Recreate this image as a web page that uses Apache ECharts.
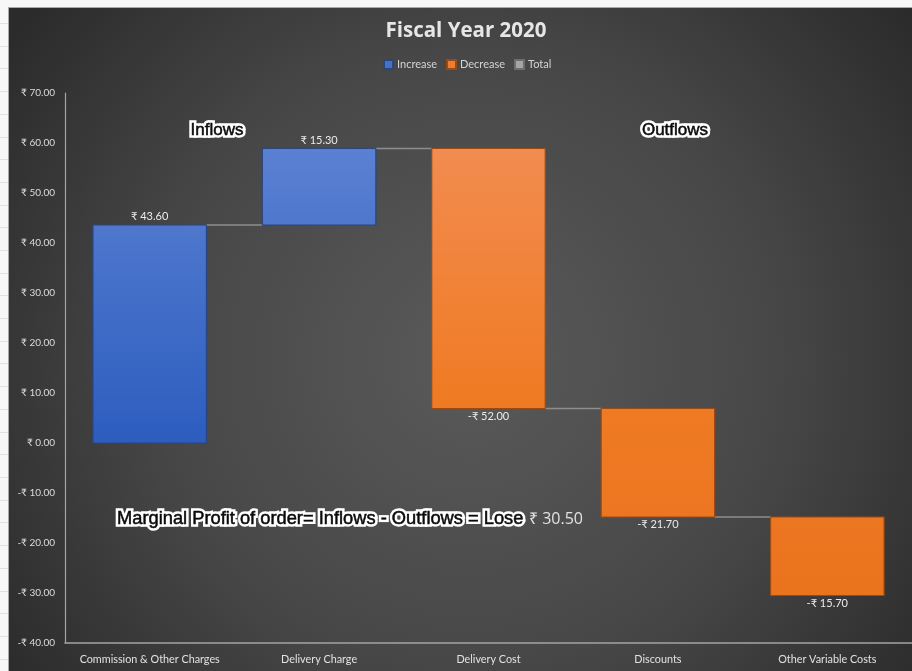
<!DOCTYPE html>
<html>
<head>
<meta charset="utf-8">
<title>Fiscal Year 2020</title>
<script src="https://cdn.jsdelivr.net/npm/echarts@6/dist/echarts.min.js"></script>
<style>
  html, body { margin: 0; padding: 0; background: #f7f7f7; }
  #chart { width: 912px; height: 671px; }
</style>
</head>
<body>
<div id="chart"></div>
<script>
// Waterfall of order-level cash flows
const categories = ['Commission & Other Charges', 'Delivery Charge', 'Delivery Cost', 'Discounts', 'Other Variable Costs'];
const changes = [43.6, 15.3, -52.0, -21.7, -15.7];
const legendNames = ['Increase', 'Decrease', 'Total'];
const axisMin = -40;
const axisMax = 70;
const axisStep = 10;

const rupee = v => (v < 0 ? '-₹ ' : '₹ ') + Math.abs(v).toFixed(2);

// running totals: each step starts where the previous one ended
const starts = [];
const ends = [];
let running = 0;
changes.forEach(c => { starts.push(running); running += c; ends.push(running); });
const finalTotal = running;

const incData = [];
const decData = [];
changes.forEach((c, i) => {
  const row = [i, starts[i], ends[i], c];
  (c >= 0 ? incData : decData).push(row);
});
const connectorData = ends.slice(0, -1).map((v, i) => [i, v]);

const BAR_RATIO = 0.67;

function makeBarRenderer(kind) {
  return function (params, api) {
    const i = api.value(0), s = api.value(1), e = api.value(2), d = api.value(3);
    const hi = api.coord([i, Math.max(s, e)]);
    const lo = api.coord([i, Math.min(s, e)]);
    const w = api.size([1, 0])[0] * BAR_RATIO;
    let fill, stroke;
    if (kind === 'inc') {
      const t = api.coord([0, 60])[1], b = api.coord([0, 0])[1];
      fill = new echarts.graphic.LinearGradient(0, t, 0, b, [
        { offset: 0, color: '#5b81d2' }, { offset: 1, color: '#2c5dbf' }
      ], true);
      stroke = '#2a4680';
    } else {
      const t = api.coord([0, 60])[1], b = api.coord([0, -30])[1];
      fill = new echarts.graphic.LinearGradient(0, t, 0, b, [
        { offset: 0, color: '#f28c51' }, { offset: 0.55, color: '#f07b25' }, { offset: 1, color: '#ea731e' }
      ], true);
      stroke = '#9a4a14';
    }
    const up = d >= 0;
    return {
      type: 'group',
      children: [
        {
          type: 'rect',
          shape: { x: hi[0] - w / 2, y: hi[1], width: w, height: lo[1] - hi[1] },
          style: { fill: fill, stroke: stroke, lineWidth: 1.2 }
        },
        {
          type: 'text',
          style: {
            text: rupee(d),
            x: hi[0],
            y: up ? hi[1] - 3 : lo[1] + 2,
            align: 'center',
            verticalAlign: up ? 'bottom' : 'top',
            fill: '#ebebeb',
            font: '11px Lato, "Open Sans", sans-serif'
          }
        }
      ]
    };
  };
}

function renderConnector(params, api) {
  const i = api.value(0), v = api.value(1);
  const w = api.size([1, 0])[0] * BAR_RATIO;
  const a = api.coord([i, v]);
  const b = api.coord([i + 1, v]);
  return {
    type: 'line',
    shape: { x1: a[0] + w / 2, y1: a[1], x2: b[0] - w / 2, y2: b[1] },
    style: { stroke: '#8e8e8e', lineWidth: 1.6 }
  };
}

// glowing callout text: shadowed white halo underneath, dark lettering in a group above it
function callout(text, x, y, align, size) {
  const font = (size || 17) + 'px "Liberation Sans", Arial, sans-serif';
  const base = { text: text, align: align || 'center', verticalAlign: 'middle', font: font };
  return {
    type: 'group', x: x, y: y, z: 20, silent: true,
    children: [
      {
        type: 'text', z: 20, z2: 1,
        style: Object.assign({}, base, {
          fill: '#ffffff', stroke: '#ffffff', lineWidth: 5.5, lineJoin: 'round',
          shadowColor: 'rgba(0,0,0,0.85)', shadowBlur: 4, shadowOffsetY: 2
        })
      },
      {
        type: 'text', z: 21, z2: 10,
        style: Object.assign({}, base, { fill: '#0a0a0a', stroke: '#0a0a0a', lineWidth: 0.5 })
      }
    ]
  };
}

// spreadsheet backdrop around the chart panel
const sheetLines = [];
for (let y = 23; y < 671; y += 22.7) {
  sheetLines.push({
    type: 'line', z: -20,
    shape: { x1: 0, y1: Math.round(y) + 0.5, x2: 8, y2: Math.round(y) + 0.5 },
    style: { stroke: '#e2e2e2', lineWidth: 1 }
  });
}

const chart = echarts.init(document.getElementById('chart'));
chart.setOption({
  animation: false,
  textStyle: { fontFamily: 'Lato, "Open Sans", sans-serif' },
  title: {
    text: 'Fiscal Year 2020',
    left: 461, top: 16,
    textAlign: 'center',
    textStyle: { color: '#e6e6e6', fontSize: 20.5, fontWeight: 'bold', fontFamily: '"Open Sans", sans-serif' }
  },
  legend: {
    data: legendNames,
    left: 378, top: 54,
    itemWidth: 9, itemHeight: 9, itemGap: 9,
    icon: 'rect',
    textStyle: { color: '#d4d4d4', fontSize: 11, padding: [0, 0, 0, -1] },
    selectedMode: false
  },
  grid: { left: 65, right: -3, top: 93, bottom: 28 },
  xAxis: {
    type: 'category',
    data: categories,
    axisLine: { onZero: false, lineStyle: { color: '#a4a4a4', width: 1.5 } },
    axisTick: { show: false },
    axisLabel: { color: '#e2e2e2', fontSize: 10.8, margin: 11, interval: 0 },
    splitLine: { show: false }
  },
  yAxis: {
    type: 'value',
    min: axisMin, max: axisMax, interval: axisStep,
    axisLine: { show: true, lineStyle: { color: '#a4a4a4', width: 1.2 } },
    axisTick: { show: false },
    splitLine: { show: false },
    axisLabel: { color: '#dcdcdc', fontSize: 10, margin: 10, formatter: v => rupee(v) }
  },
  graphic: [
    { type: 'rect', z: -30, shape: { x: 0, y: 0, width: 912, height: 671 }, style: { fill: '#f7f7f7' } },
    ...sheetLines,
    {
      type: 'rect', z: -10,
      shape: { x: 8.5, y: 7.5, width: 910, height: 670 },
      style: {
        fill: new echarts.graphic.RadialGradient(470, 360, 560, [
          { offset: 0, color: '#5a5a5a' },
          { offset: 0.55, color: '#474747' },
          { offset: 1, color: '#2b2b2b' }
        ], true),
        stroke: '#a8a8a8', lineWidth: 1
      }
    },
    callout('Inflows', 217, 130),
    callout('Outflows', 675, 130),
    callout('Marginal Profit of order= Inflows - Outflows = Lose', 117, 519, 'left', 18.3),
    {
      type: 'text', x: 529, y: 519, z: 20,
      style: {
        text: '₹ ' + Math.abs(finalTotal).toFixed(2),
        align: 'left', verticalAlign: 'middle',
        fill: '#e2e2e2',
        font: '16px "Open Sans", sans-serif'
      }
    }
  ],
  series: [
    {
      name: 'Connectors', type: 'custom', renderItem: renderConnector,
      data: connectorData, z: 1, silent: true
    },
    {
      name: 'Increase', type: 'custom', renderItem: makeBarRenderer('inc'),
      data: incData, itemStyle: { color: '#4472c4', borderColor: '#2a4680', borderWidth: 1 }, z: 3
    },
    {
      name: 'Decrease', type: 'custom', renderItem: makeBarRenderer('dec'),
      data: decData, itemStyle: { color: '#ed7d31', borderColor: '#9a4a14', borderWidth: 1 }, z: 3
    },
    {
      name: 'Total', type: 'custom', renderItem: () => null,
      data: [], itemStyle: { color: '#a5a5a5', borderColor: '#6e6e6e', borderWidth: 1 }
    }
  ]
});
</script>
</body>
</html>
